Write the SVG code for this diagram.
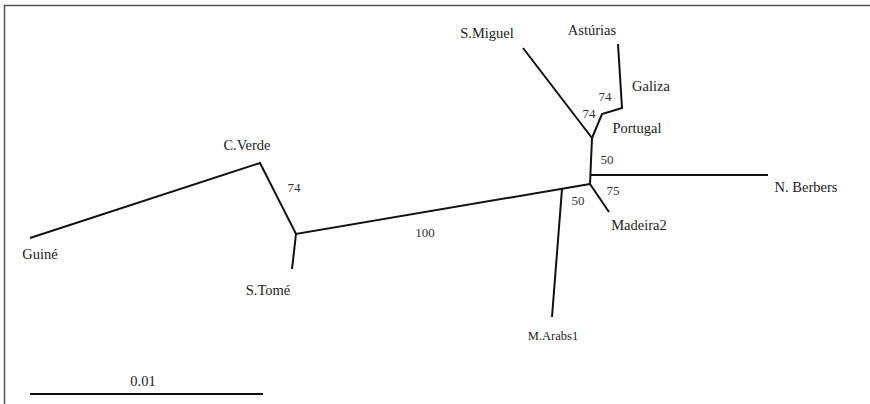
<svg xmlns="http://www.w3.org/2000/svg" width="870" height="404" viewBox="0 0 870 404">
<style>
.lbl{font-family:"Liberation Serif","Times New Roman","DejaVu Serif",serif;font-size:14.5px;fill:#222;text-anchor:middle}
.num{font-family:"Liberation Serif","Times New Roman","DejaVu Serif",serif;font-size:13px;fill:#333;text-anchor:middle}
.br{stroke:#111;stroke-width:2;fill:none;stroke-linejoin:miter}
</style>
<rect width="870" height="404" fill="#fff"/>
<path d="M4.5,404 V5.5 H870" stroke="#555" stroke-width="1.5" fill="none"/>
<g id="connectors">
<path class="br" d="M30,238 L260,163 L296,234 L590,184"/>
<path class="br" d="M296,234 L292,269"/>
<path class="br" d="M562,189 L552,317"/>
<path class="br" d="M591,175 L768,175"/>
<path class="br" d="M590,184 L609,212"/>
<path class="br" d="M590,184 L592,138 L523,48"/>
<path class="br" d="M592,138 L602,114 L622,108 L618,44"/>
<path class="br" d="M30,394 H263"/>
</g>
<g id="n-guine"><text class="lbl" x="40" y="259">Guiné</text></g>
<g id="n-cverde"><text class="lbl" x="247" y="150">C.Verde</text></g>
<g id="n-stome"><text class="lbl" x="268" y="295">S.Tomé</text></g>
<g id="n-marabs1"><text class="lbl" x="553" y="340" style="font-size:12.5px">M.Arabs1</text></g>
<g id="n-madeira2"><text class="lbl" x="639" y="230">Madeira2</text></g>
<g id="n-nberbers"><text class="lbl" x="806" y="192">N. Berbers</text></g>
<g id="n-smiguel"><text class="lbl" x="487" y="38">S.Miguel</text></g>
<g id="n-asturias"><text class="lbl" x="592" y="35">Astúrias</text></g>
<g id="n-galiza"><text class="lbl" x="651" y="91">Galiza</text></g>
<g id="n-portugal"><text class="lbl" x="637" y="133">Portugal</text></g>
<g id="support">
<text class="num" x="294" y="192">74</text>
<text class="num" x="425" y="237">100</text>
<text class="num" x="578" y="205">50</text>
<text class="num" x="613" y="195">75</text>
<text class="num" x="607" y="164">50</text>
<text class="num" x="605" y="101">74</text>
<text class="num" x="589" y="118">74</text>
</g>
<g id="scale"><text class="lbl" x="143" y="386">0.01</text></g>
</svg>
